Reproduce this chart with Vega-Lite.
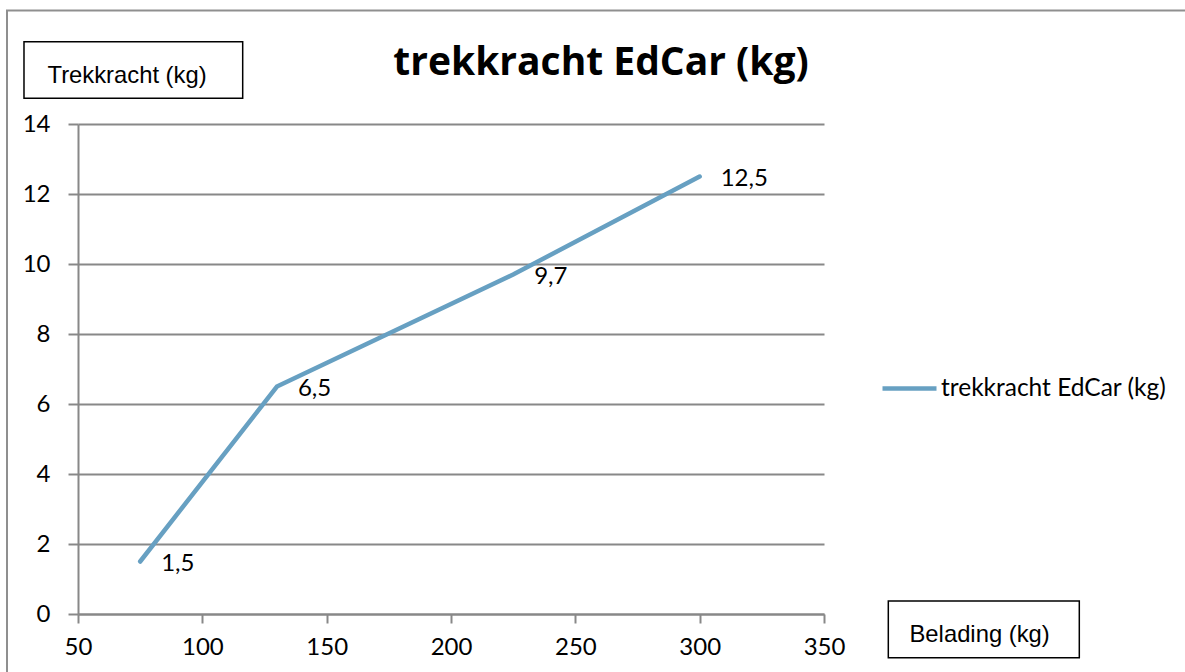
{
  "$schema": "https://vega.github.io/schema/vega-lite/v6.json",
  "width": 746,
  "height": 490,
  "autosize": {"type": "none"},
  "padding": {"left": 78, "top": 124, "right": 361, "bottom": 58},
  "background": "white",
  "config": {
    "view": {"stroke": null},
    "font": "Lato",
    "locale": {"number": {"decimal": ",", "thousands": ".", "grouping": [3], "currency": ["", " €"]}}
  },
  "title": {
    "text": "trekkracht EdCar (kg)",
    "font": "Open Sans",
    "fontSize": 39,
    "fontWeight": "bold",
    "color": "black",
    "anchor": "middle",
    "frame": "group",
    "dx": 150,
    "offset": 0,
    "dy": 74
  },
  "data": {
    "values": [
      {"belading": 75, "trekkracht": 1.5, "serie": "trekkracht EdCar (kg)"},
      {"belading": 130, "trekkracht": 6.5, "serie": "trekkracht EdCar (kg)"},
      {"belading": 225, "trekkracht": 9.7, "serie": "trekkracht EdCar (kg)"},
      {"belading": 300, "trekkracht": 12.5, "serie": "trekkracht EdCar (kg)"}
    ]
  },
  "layer": [
    {
      "mark": {"type": "line", "strokeWidth": 4.5, "strokeCap": "round"},
      "encoding": {
        "x": {
          "field": "belading",
          "type": "quantitative",
          "scale": {"domain": [50, 350], "nice": false, "zero": false},
          "axis": {
            "title": "Belading (kg)",
            "values": [50, 100, 150, 200, 250, 300, 350],
            "grid": false,
            "domainColor": "#888888",
            "domainWidth": 2,
            "tickColor": "#888888",
            "tickWidth": 2,
            "tickSize": 9,
            "labelFlush": false,
            "labelFont": "Lato",
            "labelFontSize": 24,
            "labelColor": "black",
            "labelPadding": 12,
            "titleFont": "Liberation Sans",
            "titleFontSize": 23.8,
            "titleFontWeight": "normal",
            "titleColor": "black",
            "titleX": 831,
            "titleY": 27.7,
            "titleAlign": "left",
            "titleBaseline": "alphabetic"
          }
        },
        "y": {
          "field": "trekkracht",
          "type": "quantitative",
          "scale": {"domain": [0, 14], "nice": false},
          "axis": {
            "title": "Trekkracht (kg)",
            "values": [0, 2, 4, 6, 8, 10, 12, 14],
            "grid": true,
            "gridColor": "#888888",
            "gridWidth": 2,
            "domainColor": "#888888",
            "domainWidth": 2,
            "tickColor": "#888888",
            "tickWidth": 2,
            "tickSize": 10,
            "labelFont": "Lato",
            "labelFontSize": 24,
            "labelColor": "black",
            "labelPadding": 18,
            "titleFont": "Liberation Sans",
            "titleFontSize": 23.8,
            "titleFontWeight": "normal",
            "titleColor": "black",
            "titleAngle": 0,
            "titleX": -31,
            "titleY": -42,
            "titleAlign": "left",
            "titleBaseline": "alphabetic"
          }
        },
        "color": {
          "field": "serie",
          "type": "nominal",
          "scale": {"range": ["#67A0C2"]},
          "legend": {
            "orient": "none",
            "legendX": 802,
            "legendY": 235,
            "title": null,
            "padding": 0,
            "symbolType": "stroke",
            "symbolSize": 2916,
            "symbolStrokeWidth": 4.5,
            "labelFont": "Lato",
            "labelFontSize": 24.5,
            "labelColor": "black",
            "labelOffset": 2,
            "labelLimit": 400
          }
        }
      }
    },
    {
      "mark": {"type": "text", "align": "left", "baseline": "middle", "dx": 21, "dy": 2, "font": "Lato", "fontSize": 24, "color": "black"},
      "encoding": {
        "x": {"field": "belading", "type": "quantitative"},
        "y": {"field": "trekkracht", "type": "quantitative"},
        "text": {"field": "trekkracht", "type": "quantitative", "format": ".1f"}
      }
    },
    {
      "data": {"values": [{}]},
      "mark": {"type": "rect", "fillOpacity": 0, "stroke": "#8f8f8f", "strokeWidth": 2, "clip": false},
      "encoding": {
        "x": {"datum": 21.45, "type": "quantitative"},
        "x2": {"datum": 500},
        "y": {"datum": 17.243, "type": "quantitative"},
        "y2": {"datum": -3}
      }
    },
    {
      "data": {"values": [{}]},
      "mark": {"type": "rect", "fillOpacity": 0, "stroke": "black", "strokeWidth": 1.5},
      "encoding": {
        "x": {"datum": 28.28, "type": "quantitative"},
        "x2": {"datum": 116.23},
        "y": {"datum": 16.351, "type": "quantitative"},
        "y2": {"datum": 14.734}
      }
    },
    {
      "data": {"values": [{}]},
      "mark": {"type": "rect", "fillOpacity": 0, "stroke": "black", "strokeWidth": 1.5},
      "encoding": {
        "x": {"datum": 375.86, "type": "quantitative"},
        "x2": {"datum": 452.67},
        "y": {"datum": 0.371, "type": "quantitative"},
        "y2": {"datum": -1.249}
      }
    }
  ]
}
